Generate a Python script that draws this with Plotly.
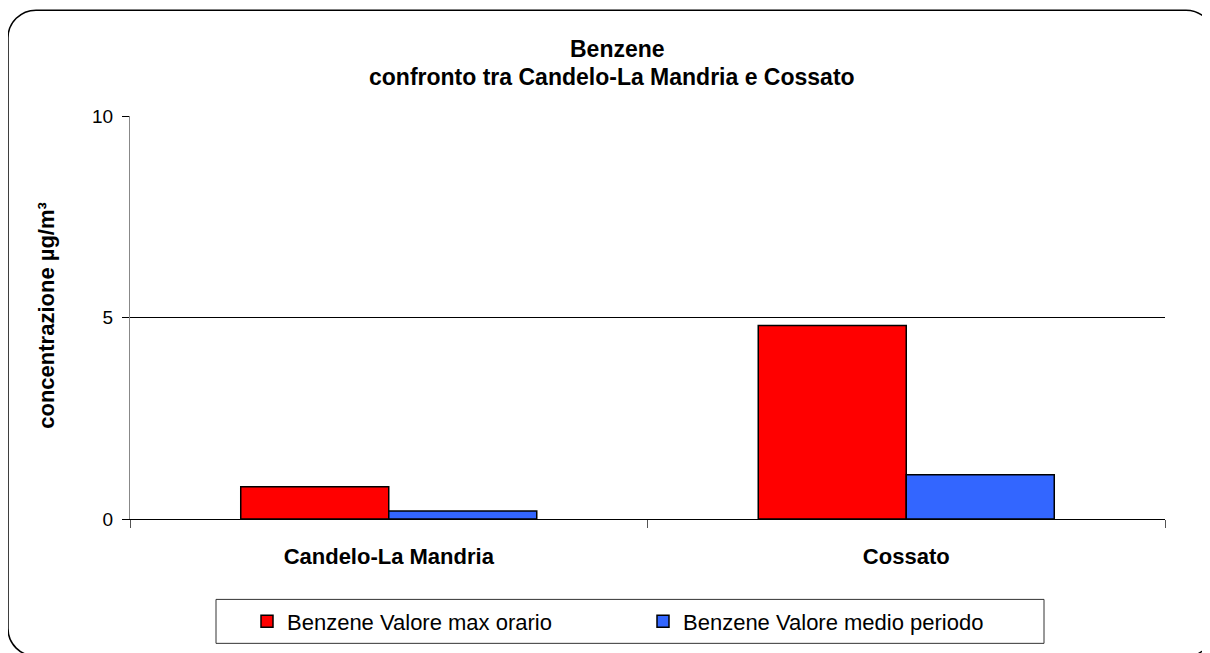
import plotly.graph_objects as go

categories = ["Candelo-La Mandria", "Cossato"]
max_orario = [0.8, 4.8]
medio_periodo = [0.2, 1.1]
series_names = ["Benzene Valore max orario", "Benzene Valore medio periodo"]
title_lines = ["Benzene", "confronto tra Candelo-La Mandria e Cossato"]
y_title = "concentrazione µg/m³"

OFF = 8  # page body margin
W, H = 1210, 653
# plot area in screen pixels: x 130..1165, y 116..519.5
SX0, SX1, SY0, SY1 = 130, 1165, 116, 519.5
L, T = SX0 - OFF, SY0 - OFF
R = W - (SX1 - OFF)
B = H - (SY1 - OFF)
PW, PH = SX1 - SX0, SY1 - SY0

def px(x):
    return (x - SX0) / PW

def py(y):
    return (SY1 - y) / PH

FONT = "Arial, Liberation Sans, sans-serif"

fig = go.Figure()
fig.add_trace(go.Bar(name=series_names[0], x=categories, y=max_orario,
                     marker=dict(color="#FF0000", line=dict(color="black", width=1.5))))
fig.add_trace(go.Bar(name=series_names[1], x=categories, y=medio_periodo,
                     marker=dict(color="#3366FF", line=dict(color="black", width=1.5))))

# rounded outer frame (screen coordinates)
l0, t0, r0, b0, rad = 8, 10, 1214, 657, 28
k = 0.5523 * rad
def P(x, y):
    return f"{px(x):.6f},{py(y):.6f}"
path = (f"M{P(l0 + rad, t0)} L{P(r0 - rad, t0)} "
        f"C{P(r0 - rad + k, t0)} {P(r0, t0 + rad - k)} {P(r0, t0 + rad)} "
        f"L{P(r0, b0 - rad)} "
        f"C{P(r0, b0 - rad + k)} {P(r0 - rad + k, b0)} {P(r0 - rad, b0)} "
        f"L{P(l0 + rad, b0)} "
        f"C{P(l0 + rad - k, b0)} {P(l0, b0 - rad + k)} {P(l0, b0 - rad)} "
        f"L{P(l0, t0 + rad)} "
        f"C{P(l0, t0 + rad - k)} {P(l0 + rad - k, t0)} {P(l0 + rad, t0)} Z")

shapes = [
    dict(type="path", xref="paper", yref="paper", path=path,
         line=dict(color="black", width=1.5), layer="below"),
    dict(type="rect", xref="paper", yref="paper",
         x0=px(216), x1=px(1044), y0=py(600), y1=py(644),
         line=dict(color="#333333", width=1)),
]

annotations = [
    dict(text="<b>" + title_lines[0] + "</b>", xref="paper", yref="paper",
         x=px(617), y=py(49), xanchor="center", yanchor="middle", showarrow=False,
         font=dict(size=23, family=FONT, color="black")),
    dict(text="<b>" + title_lines[1] + "</b>", xref="paper", yref="paper",
         x=px(612), y=py(77), xanchor="center", yanchor="middle", showarrow=False,
         font=dict(size=23, family=FONT, color="black")),
    dict(text="<b>" + y_title + "</b>", xref="paper", yref="paper",
         x=px(47), y=py(316), xanchor="center", yanchor="middle",
         textangle=-90, showarrow=False,
         font=dict(size=22, family=FONT, color="black")),
]

fig.update_layout(
    width=W, height=H,
    margin=dict(l=L, r=R, t=T, b=B, pad=0),
    paper_bgcolor="white", plot_bgcolor="white",
    font=dict(family=FONT, color="black", size=19),
    barmode="group", bargap=0.428, bargroupgap=0,
    showlegend=True,
    legend=dict(orientation="h", x=px(247), xanchor="left", y=py(622), yanchor="middle",
                font=dict(size=22, family=FONT, color="black"),
                entrywidth=351, entrywidthmode="pixels",
                bgcolor="rgba(0,0,0,0)", borderwidth=0, traceorder="normal"),
    shapes=shapes,
    annotations=annotations,
)

fig.update_xaxes(type="category", tickson="boundaries", ticks="outside", ticklen=8,
                 tickcolor="#555555", tickwidth=1, showline=True, linecolor="black",
                 linewidth=1, showgrid=False, zeroline=False,
                 tickfont=dict(size=22, family=FONT, color="black"),
                 ticklabelstandoff=18, tickprefix="<b>", ticksuffix="</b>")
fig.update_yaxes(range=[0, 10], dtick=5, tick0=0, ticks="outside", ticklen=7,
                 tickcolor="black", showline=True, linecolor="#888888", linewidth=1,
                 showgrid=True, gridcolor="black", gridwidth=1, zeroline=False,
                 ticklabelstandoff=5,
                 tickfont=dict(size=19, family=FONT, color="black"))

fig.write_html("out.html")
